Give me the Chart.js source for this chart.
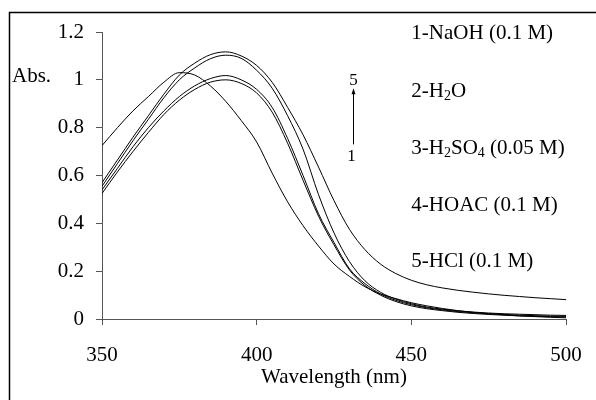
<!DOCTYPE html>
<html>
<head>
<meta charset="utf-8">
<script src="https://cdn.jsdelivr.net/npm/chart.js@4/dist/chart.umd.min.js"></script>
<style>
html,body{margin:0;padding:0;background:#fff;}
#wrap{width:596px;height:400px;position:relative;}
</style>
</head>
<body>
<div id="wrap"><canvas id="c" width="596" height="400"></canvas></div>
<script>
// ---- data ----
const wavelengths = [350,355,360,365,370,375,380,385,390,395,400,405,410,415,420,425,430,435,440,445,450,455,460,465,470,475,480,485,490,495,500];
const naoh  = [0.725,0.80,0.87,0.93,0.99,1.03,1.02,0.975,0.91,0.83,0.74,0.61,0.49,0.39,0.305,0.23,0.178,0.135,0.105,0.085,0.068,0.055,0.044,0.035,0.028,0.022,0.017,0.013,0.010,0.007,0.005];
const h2o   = [0.525,0.615,0.70,0.78,0.855,0.915,0.96,0.99,1.00,0.985,0.945,0.865,0.735,0.58,0.43,0.31,0.205,0.14,0.10,0.073,0.055,0.043,0.035,0.028,0.023,0.019,0.016,0.013,0.011,0.010,0.008];
const h2so4 = [0.54,0.63,0.72,0.80,0.87,0.93,0.975,1.005,1.018,1.0,0.96,0.885,0.755,0.60,0.44,0.32,0.21,0.148,0.105,0.078,0.060,0.047,0.038,0.031,0.026,0.022,0.019,0.016,0.014,0.012,0.011];
const hoac  = [0.555,0.65,0.745,0.835,0.925,1.0,1.05,1.088,1.103,1.09,1.04,0.965,0.85,0.71,0.52,0.36,0.24,0.16,0.112,0.083,0.064,0.050,0.041,0.034,0.029,0.025,0.022,0.020,0.018,0.016,0.015];
const hcl   = [0.57,0.665,0.76,0.85,0.94,1.02,1.07,1.105,1.117,1.10,1.06,0.99,0.885,0.77,0.635,0.495,0.375,0.29,0.23,0.19,0.162,0.143,0.13,0.12,0.112,0.105,0.099,0.094,0.089,0.085,0.081];
const seriesList = [naoh, h2o, h2so4, hoac, hcl];
const xTicks = [350,400,450,500];
const yTicks = [0,0.2,0.4,0.6,0.8,1,1.2];
const legendLines = [
  [["1-NaOH (0.1 M)",0]],
  [["2-H",0],["2",1],["O",0]],
  [["3-H",0],["2",1],["SO",0],["4",1],[" (0.05 M)",0]],
  [["4-HOAC (0.1 M)",0]],
  [["5-HCl (0.1 M)",0]]
];
const legendY = [1.169,0.93,0.688,0.453,0.219];
const legendX = 450;

const FONT = '"Liberation Serif","Times New Roman",serif';

const datasets = seriesList.map(s => ({
  data: wavelengths.map((w,i)=>({x:w,y:s[i]})),
  borderColor:'#000', borderWidth:1, pointRadius:0, fill:false,
  cubicInterpolationMode:'monotone'
}));

const annot = {
  id:'annot',
  beforeDraw(chart){
    const ctx = chart.ctx;
    ctx.save();
    ctx.fillStyle='#fff';
    ctx.fillRect(0,0,chart.width,chart.height);
    ctx.restore();
  },
  afterDraw(chart){
    const ctx = chart.ctx, xs = chart.scales.x, ys = chart.scales.y;
    ctx.save();
    // frame
    ctx.strokeStyle='#000'; ctx.lineWidth=1.5;
    ctx.beginPath(); ctx.moveTo(9.5,400); ctx.lineTo(9.5,12.5); ctx.lineTo(596,12.5); ctx.stroke();
    // Abs.
    ctx.fillStyle='#000';
    ctx.font='21px '+FONT; ctx.textBaseline='alphabetic'; ctx.textAlign='left';
    ctx.fillText('Abs.',12,82);
    // legend texts
    legendLines.forEach((parts,i)=>{
      let x = xs.getPixelForValue(legendX);
      const y = ys.getPixelForValue(legendY[i]);
      parts.forEach(([t,sub])=>{
        ctx.font = (sub?'14px ':'21px ')+FONT;
        ctx.fillText(t,x,sub? y+3 : y);
        x += ctx.measureText(t).width;
      });
    });
    // arrow
    const ax = Math.round(xs.getPixelForValue(431))+0.5;
    const yTop = ys.getPixelForValue(0.965), yBot = ys.getPixelForValue(0.73);
    ctx.strokeStyle='#000'; ctx.lineWidth=1;
    ctx.beginPath(); ctx.moveTo(ax,yBot); ctx.lineTo(ax,yTop+4); ctx.stroke();
    ctx.beginPath(); ctx.moveTo(ax,yTop); ctx.lineTo(ax-2,yTop+6); ctx.lineTo(ax+2,yTop+6); ctx.closePath(); ctx.fill();
    ctx.font='17px '+FONT; ctx.textAlign='center';
    ctx.fillText('5',ax,yTop-3);
    ctx.fillText('1',ax-2,yBot+17);
    ctx.restore();
  }
};

function fixPad(s){ s.paddingLeft=0; s.paddingRight=0; s.paddingTop=0; s.paddingBottom=0; }

new Chart(document.getElementById('c'),{
  type:'line',
  data:{datasets},
  plugins:[annot],
  options:{
    responsive:false, animation:false, devicePixelRatio:1,
    layout:{padding:{left:0,top:32,right:30,bottom:0}},
    plugins:{legend:{display:false},tooltip:{enabled:false}},
    scales:{
      x:{type:'linear',min:350,max:500,
        afterBuildTicks:s=>{s.ticks=xTicks.map(v=>({value:v}));},
        afterFit:s=>{s.height=81; fixPad(s);},
        grid:{display:true,drawOnChartArea:false,drawTicks:true,tickLength:6,color:'#555'},
        border:{display:true,color:'#555',width:1},
        ticks:{color:'#000',font:{family:FONT,size:21},padding:18,maxRotation:0,callback:v=>String(v)},
        title:{display:true,text:'Wavelength (nm)',color:'#000',font:{family:FONT,size:21},padding:{top:0,bottom:10}}
      },
      y:{type:'linear',min:0,max:1.2,
        afterBuildTicks:s=>{s.ticks=yTicks.map(v=>({value:v}));},
        afterFit:s=>{s.width=102; fixPad(s);},
        grid:{display:true,drawOnChartArea:false,drawTicks:true,tickLength:6,color:'#555'},
        border:{display:true,color:'#555',width:1},
        ticks:{color:'#000',font:{family:FONT,size:21},padding:12,callback:v=>String(+(+v).toFixed(1))}
      }
    }
  }
});
</script>
</body>
</html>
